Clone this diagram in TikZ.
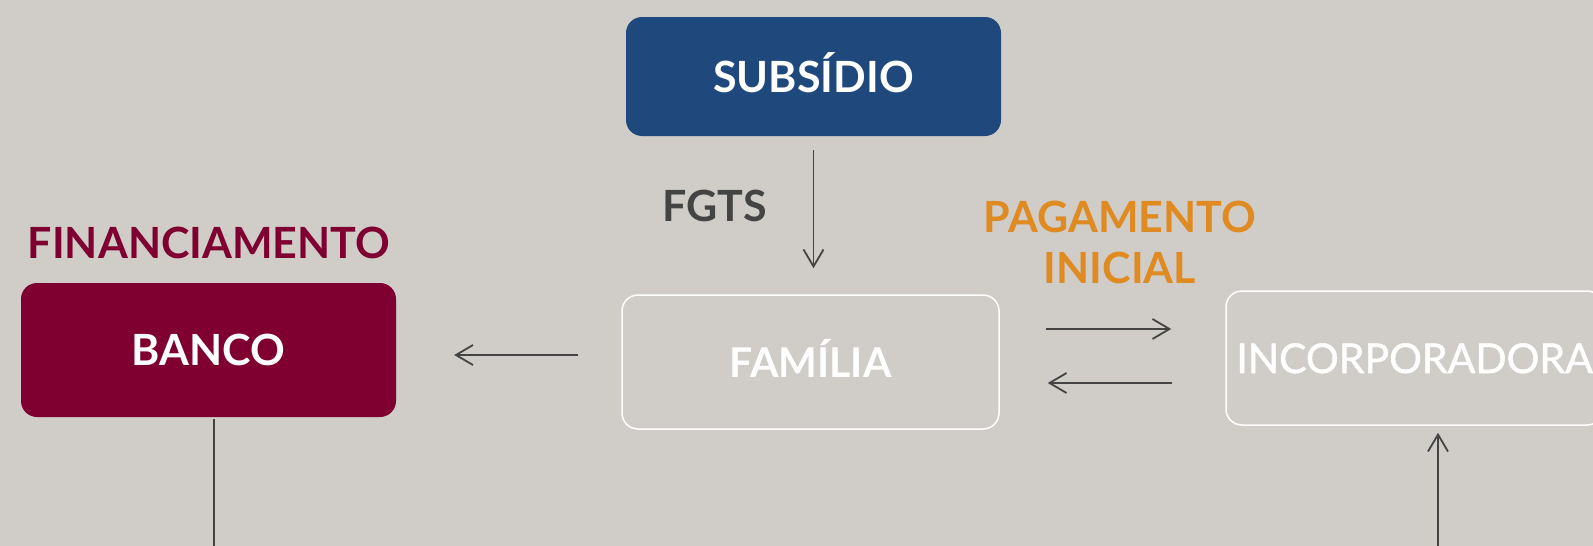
\documentclass[tikz,border=0pt]{standalone}
\usepackage{fontspec}
\setmainfont{Lato}
\newfontfamily\incfont[FakeBold=1.2]{Lato}
\usepackage{tikz}
\usetikzlibrary{arrows.meta,positioning}
\definecolor{Paper}{HTML}{D0CDC8}
\definecolor{Subsidy}{HTML}{1F487C}
\definecolor{Bank}{HTML}{7F0030}
\definecolor{Initial}{HTML}{E08A22}
\definecolor{Ink}{HTML}{444444}

\begin{document}
\begin{tikzpicture}[x=1pt,y=-1pt,font=\fontsize{43}{51}\selectfont\bfseries,>={Straight Barb[length=17pt,width=20pt]},
  solidbox/.style={rounded corners=16pt,minimum width=375pt,minimum height=119pt,text=white,text height=31pt,text depth=0pt},
  openbox/.style={draw=white,line width=1.5pt,rounded corners=16pt,minimum width=377pt,minimum height=134pt,inner xsep=0pt,text=white,text height=31pt,text depth=0pt},
  flow/.style={Ink,line width=1.8pt}]
  \clip (0,0) rectangle (1593,546);
  \fill[Paper] (0,0) rectangle (1593,546);
  \node[solidbox,fill=Subsidy] (subsidio) at (813.5,76.5) {SUBSÍDIO};
  \node[openbox,font=\fontsize{41}{51}\selectfont\bfseries] (familia) at (810.5,362) {FAMÍLIA};
  \node[solidbox,fill=Bank,minimum height=134pt] (banco) at (208.5,350) {BANCO};
  \node[openbox,font=\fontsize{41}{51}\incfont,text height=30pt] (incorp) at (1414.5,358) {INCORPORADORA};
  \node[Ink] (fgts) at (715,206) {FGTS};
  \node[Bank] (financ) at (209,243) {FINANCIAMENTO};
  \node[Initial,align=center] (pagto) at (1120,242) {PAGAMENTO\\INICIAL};
  \coordinate (bancoout) at (214,560);
  \coordinate (incorpin) at (1438,560);
  \draw[flow,->,shorten <=14pt,shorten >=26pt] (subsidio.south) -- (subsidio.south |- familia.north);
  \draw[flow,->,shorten <=43pt,shorten >=58pt] ([yshift=7pt]familia.west) -- ([yshift=7pt]familia.west -| banco.east);
  \draw[flow,->,shorten <=46pt,shorten >=54pt] ([yshift=33pt]familia.east) -- ([yshift=33pt]familia.east -| incorp.west);
  \draw[flow,->,shorten <=53pt,shorten >=48pt] ([yshift=-21pt]incorp.west |- familia.east) -- ([yshift=-21pt]familia.east);
  \draw[flow,shorten <=2pt] (banco.south -| bancoout) -- (bancoout);
  \draw[flow,->,shorten >=7pt] (incorpin) -- (incorpin |- incorp.south);
\end{tikzpicture}
\end{document}
